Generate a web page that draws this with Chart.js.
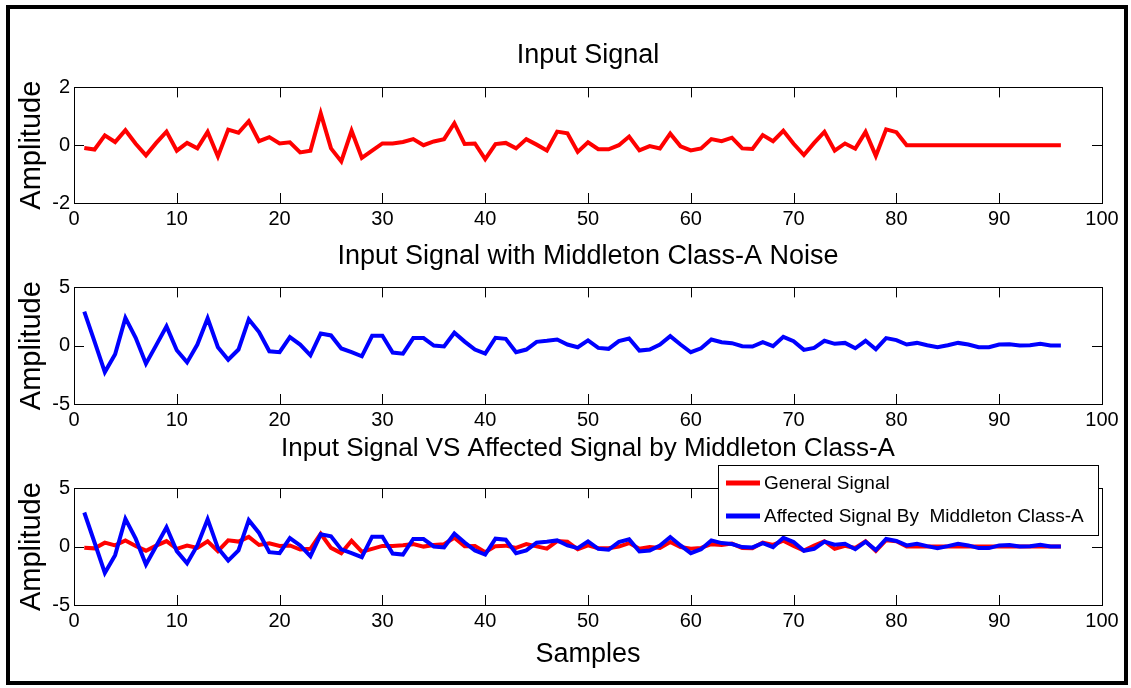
<!DOCTYPE html>
<html>
<head>
<meta charset="utf-8">
<script src="https://cdn.jsdelivr.net/npm/chart.js@4.4.0/dist/chart.umd.min.js"></script>
<style>
  body { margin: 0; background: #fff; }
  #frame { position: absolute; left: 6px; top: 5px; width: 1114px; height: 672px; border: 4px solid #000; }
  canvas { position: absolute; left: 0; }
</style>
</head>
<body>
<div id="frame"></div>
<canvas id="c1" width="1131" height="240" style="top:0px"></canvas>
<canvas id="c2" width="1131" height="240" style="top:200px"></canvas>
<canvas id="c3" width="1131" height="287" style="top:401px"></canvas>
<script>
// sample numbers 1..96
const samples = Array.from({ length: 96 }, (_, i) => i + 1);

const inputSignal = [
    -0.1, -0.15, 0.34, 0.11, 0.52, 0.05, -0.35, 0.08, 0.47, -0.19,
    0.08, -0.11, 0.46, -0.39, 0.54, 0.43, 0.83, 0.14, 0.28, 0.06,
    0.1, -0.25, -0.19, 1.1, -0.11, -0.56, 0.5, -0.44, -0.19, 0.06,
    0.06, 0.11, 0.21, 0, 0.13, 0.21, 0.76, 0.04, 0.06, -0.48,
    0.04, 0.08, -0.11, 0.21, 0.02, -0.18, 0.47, 0.41, -0.23, 0.1,
    -0.14, -0.14, 0, 0.3, -0.18, -0.03, -0.11, 0.4, -0.04, -0.18,
    -0.11, 0.21, 0.14, 0.26, -0.11, -0.13, 0.35, 0.14, 0.5, 0.05,
    -0.34, 0.08, 0.46, -0.19, 0.06, -0.12, 0.46, -0.37, 0.55, 0.45,
    0, 0, 0, 0, 0, 0, 0, 0, 0, 0,
    0, 0, 0, 0, 0, 0
];

const noisySignal = [
    2.92, 0.35, -2.26, -0.73, 2.38, 0.68, -1.54, 0.05, 1.66, -0.39,
    -1.43, 0.1, 2.35, -0.13, -1.2, -0.33, 2.26, 1.17, -0.48, -0.56,
    0.73, 0.1, -0.82, 1.05, 0.88, -0.24, -0.56, -0.91, 0.85, 0.85,
    -0.59, -0.68, 0.65, 0.65, 0.01, -0.07, 1.11, 0.35, -0.33, -0.68,
    0.68, 0.59, -0.56, -0.33, 0.33, 0.42, 0.53, 0.1, -0.13, 0.45,
    -0.19, -0.27, 0.39, 0.62, -0.42, -0.33, 0.1, 0.82, 0.1, -0.56,
    -0.22, 0.53, 0.3, 0.22, -0.04, -0.07, 0.3, -0.04, 0.76, 0.39,
    -0.36, -0.19, 0.42, 0.16, 0.24, -0.22, 0.42, -0.3, 0.65, 0.48,
    0.1, 0.24, 0.04, -0.13, 0.04, 0.24, 0.1, -0.13, -0.13, 0.1,
    0.13, 0.01, 0.04, 0.16, 0.01, 0.01
];

const titles = [
    'Input Signal',
    'Input Signal with Middleton Class-A Noise',
    'Input Signal VS Affected Signal by Middleton Class-A'
];
const legendLabels = ['General Signal', 'Affected Signal By  Middleton Class-A'];

const FONT = "'Liberation Sans', Arial, sans-serif";
Chart.defaults.font.family = FONT;
Chart.defaults.color = '#000';

// box around the axes with MATLAB style inward ticks
const boxTicks = {
    id: 'boxTicks',
    afterDatasetsDraw(chart) {
        const { ctx, chartArea: a, scales: { x, y } } = chart;
        ctx.save();
        ctx.strokeStyle = '#000';
        ctx.lineWidth = 1;
        ctx.beginPath();
        x.ticks.forEach(t => {
            const px = Math.round(x.getPixelForValue(t.value)) + 0.5;
            ctx.moveTo(px, a.top); ctx.lineTo(px, a.top + 10);
            ctx.moveTo(px, a.bottom); ctx.lineTo(px, a.bottom - 10);
        });
        y.ticks.forEach(t => {
            const py = Math.round(y.getPixelForValue(t.value)) + 0.5;
            ctx.moveTo(a.left, py); ctx.lineTo(a.left + 10, py);
            ctx.moveTo(a.right, py); ctx.lineTo(a.right - 10, py);
        });
        ctx.stroke();
        ctx.strokeRect(Math.round(a.left) + 0.5, Math.round(a.top) + 0.5, Math.round(a.width), Math.round(a.height));
        ctx.restore();
    }
};

// legend box in the top right corner of the last plot
const boxLegend = {
    id: 'boxLegend',
    afterDraw(chart) {
        const { ctx, chartArea: a } = chart;
        const left = Math.round(a.right) - 384, top = Math.round(a.top) - 23;
        ctx.save();
        ctx.fillStyle = '#fff';
        ctx.fillRect(left, top, 380, 70);
        ctx.strokeStyle = '#000';
        ctx.lineWidth = 1;
        ctx.strokeRect(left + 0.5, top + 0.5, 380, 70);
        ctx.font = '19px ' + FONT;
        ctx.textBaseline = 'middle';
        chart.data.datasets.forEach((ds, i) => {
            const yy = top + 18 + i * 33;
            ctx.strokeStyle = ds.borderColor;
            ctx.lineWidth = 5;
            ctx.beginPath();
            ctx.moveTo(left + 8, yy);
            ctx.lineTo(left + 42, yy);
            ctx.stroke();
            ctx.fillStyle = '#000';
            ctx.fillText(ds.label, left + 46, yy + 1);
        });
        ctx.restore();
    }
};

function lineSet(label, values, color, order) {
    return {
        label: label,
        data: values,
        borderColor: color,
        backgroundColor: color,
        borderWidth: 4,
        pointRadius: 0,
        tension: 0,
        fill: false,
        order: order
    };
}

function makeChart(id, opt) {
    const xScale = {
        type: 'linear',
        min: 0,
        max: 100,
        ticks: { stepSize: 10, padding: 4, font: { size: 20 } },
        grid: { display: false, drawTicks: false },
        border: { display: false },
        afterFit: s => { s.height = opt.xHeight; }
    };
    if (opt.xTitle) {
        xScale.title = {
            display: true,
            text: opt.xTitle,
            font: { size: 27, lineHeight: 1.2 },
            padding: { top: 0, bottom: 17 }
        };
    }
    return new Chart(document.getElementById(id).getContext('2d'), {
        type: 'line',
        data: { labels: samples, datasets: opt.datasets },
        options: {
            responsive: false,
            animation: false,
            devicePixelRatio: 1,
            layout: { padding: { left: 0, right: 29, top: 0, bottom: 0 } },
            scales: {
                x: xScale,
                y: {
                    min: -opt.yMax,
                    max: opt.yMax,
                    ticks: { stepSize: opt.yMax, padding: 4, font: { size: 20 } },
                    grid: { display: false, drawTicks: false },
                    border: { display: false },
                    afterFit: s => { s.width = 74; },
                    title: {
                        display: true,
                        text: 'Amplitude',
                        font: { size: 29, lineHeight: 1.2 },
                        padding: { top: 15, bottom: 0 }
                    }
                }
            },
            plugins: {
                legend: { display: false },
                tooltip: { enabled: false },
                title: {
                    display: true,
                    fullSize: false,
                    text: opt.title,
                    font: { size: opt.titleSize, weight: 'normal', lineHeight: 1.2 },
                    padding: opt.titlePad
                }
            }
        },
        plugins: opt.legend ? [boxTicks, boxLegend] : [boxTicks]
    });
}

makeChart('c1', {
    title: titles[0], titleSize: 27, titlePad: { top: 39, bottom: 16 },
    yMax: 2, xHeight: 37,
    datasets: [lineSet('Input Signal', inputSignal, '#ff0000', 0)]
});

makeChart('c2', {
    title: titles[1], titleSize: 27, titlePad: { top: 40, bottom: 15 },
    yMax: 5, xHeight: 36,
    datasets: [lineSet('Noisy Signal', noisySignal, '#0000ff', 0)]
});

makeChart('c3', {
    title: titles[2], titleSize: 26, titlePad: { top: 32, bottom: 24 },
    yMax: 5, xHeight: 83, xTitle: 'Samples', legend: true,
    datasets: [
        lineSet(legendLabels[0], inputSignal, '#ff0000', 1),
        lineSet(legendLabels[1], noisySignal, '#0000ff', 0)
    ]
});
</script>
</body>
</html>
